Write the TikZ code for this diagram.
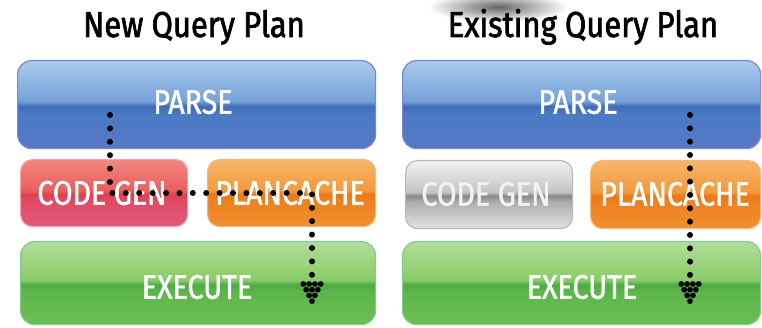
\documentclass[tikz,border=0pt]{standalone}
\usepackage{fontspec}
\usepackage{pdfrender}
\setmainfont{Fira Sans}[FakeStretch=0.84, FakeBold=1.3]
\newfontfamily\titlefont{Fira Sans}[FakeStretch=0.86, FakeBold=1.8]
\definecolor{bT}{HTML}{A9CAEC}\definecolor{bM}{HTML}{76A2DA}\definecolor{bD}{HTML}{3F6BB8}\definecolor{bL}{HTML}{4A7AC4}\definecolor{bB}{HTML}{5878C4}\definecolor{bE}{HTML}{7C86D2}
\definecolor{rT}{HTML}{F2877E}\definecolor{rM}{HTML}{EA5E5E}\definecolor{rD}{HTML}{DE3F4E}\definecolor{rL}{HTML}{E04A62}\definecolor{rB}{HTML}{E2587E}\definecolor{rE}{HTML}{F2A2A8}
\definecolor{oT}{HTML}{F7B56A}\definecolor{oM}{HTML}{F39A3E}\definecolor{oD}{HTML}{EC7818}\definecolor{oL}{HTML}{EE8020}\definecolor{oB}{HTML}{F09030}\definecolor{oE}{HTML}{F6B878}
\definecolor{gT}{HTML}{B2DD9C}\definecolor{gM}{HTML}{8ACC68}\definecolor{gD}{HTML}{4FAA46}\definecolor{gL}{HTML}{5DB64A}\definecolor{gB}{HTML}{6CBF52}\definecolor{gE}{HTML}{82CA90}
\definecolor{sT}{HTML}{F2F2F2}\definecolor{sM}{HTML}{C4C4C4}\definecolor{sD}{HTML}{888888}\definecolor{sL}{HTML}{ADADAD}\definecolor{sB}{HTML}{E2E2E2}\definecolor{sE}{HTML}{B8B8B8}
\pgfdeclareverticalshading{blueshade}{100bp}{color(0bp)=(bB); color(25bp)=(bB); color(45bp)=(bL); color(49bp)=(bD); color(52bp)=(bM); color(75bp)=(bT); color(100bp)=(bT)}
\pgfdeclareverticalshading{redshade}{100bp}{color(0bp)=(rB); color(25bp)=(rB); color(45bp)=(rL); color(49bp)=(rD); color(52bp)=(rM); color(75bp)=(rT); color(100bp)=(rT)}
\pgfdeclareverticalshading{orangeshade}{100bp}{color(0bp)=(oB); color(25bp)=(oB); color(45bp)=(oL); color(49bp)=(oD); color(52bp)=(oM); color(75bp)=(oT); color(100bp)=(oT)}
\pgfdeclareverticalshading{greenshade}{100bp}{color(0bp)=(gB); color(25bp)=(gB); color(45bp)=(gL); color(49bp)=(gD); color(52bp)=(gM); color(75bp)=(gT); color(100bp)=(gT)}
\pgfdeclareverticalshading{grayshade}{100bp}{color(0bp)=(sB); color(25bp)=(sB); color(45bp)=(sL); color(49bp)=(sD); color(52bp)=(sM); color(75bp)=(sT); color(100bp)=(sT)}
\tikzset{
  box/.style={rounded corners=14pt, line width=1.2pt, inner sep=0pt, anchor=north west},
  lbl/.style={text=white, font=\fontsize{34}{34}\selectfont, inner sep=0pt},
  ttl/.style={text=black, font=\titlefont\fontsize{36}{36}\selectfont, inner sep=0pt, anchor=base},
  dotline/.style={line width=6pt, line cap=round, dash pattern=on 0pt off #1},
  dothead/.pic={
    \foreach \x in {-8.7,-2.9,2.9,8.7} \fill (\x,9) circle (2.9pt);
    \foreach \x in {-5.8,0,5.8} \fill (\x,14.7) circle (2.9pt);
    \foreach \x in {-2.9,2.9} \fill (\x,20.4) circle (2.9pt);
    \fill (0,26.1) circle (2.9pt);
  }
}
\begin{document}
\begin{tikzpicture}[x=1pt,y=-1pt]
\useasboundingbox[fill=white] (0,0) rectangle (762,328);
% faint smudge at top
\shade[inner color=black!60, outer color=white] (498,7) ellipse (70pt and 15pt);
% titles
\node[ttl] (t1) at (194,37) {New Query Plan};
\node[ttl] (t2) at (583,37) {Existing Query Plan};
% left panel boxes
\node[box, shading=blueshade, draw=bE, minimum width=358pt, minimum height=88pt] (lparse) at (17,60) {};
\node[box, shading=redshade, draw=rE, rounded corners=12pt, minimum width=167pt, minimum height=67pt] (lcode) at (20,159) {};
\node[box, shading=orangeshade, draw=oE, rounded corners=12pt, minimum width=168pt, minimum height=67pt] (lplan) at (207,159) {};
\node[box, shading=greenshade, draw=gE, minimum width=355pt, minimum height=83pt] (lexec) at (20,241) {};
% right panel boxes
\node[box, shading=blueshade, draw=bE, minimum width=358pt, minimum height=88pt] (rparse) at (402,60) {};
\node[box, shading=grayshade, draw=sE, rounded corners=12pt, minimum width=167pt, minimum height=68pt] (rcode) at (405,160) {};
\node[box, shading=orangeshade, draw=oE, rounded corners=12pt, minimum width=170pt, minimum height=68pt] (rplan) at (590,160) {};
\node[box, shading=greenshade, draw=gE, minimum width=358pt, minimum height=83pt] (rexec) at (402,241) {};
% labels
\node[lbl] (lparset) at (193,102) {PARSE};
\node[lbl] (lcodet) at (102,193) {CODE GEN};
\node[lbl] (lplant) at (290,193) {PLANCACHE};
\node[lbl] (lexect) at (197,287) {EXECUTE};
\node[lbl] (rparset) at (578,102) {PARSE};
\node[lbl, text=black!5] (rcodet) at (486,194) {\textpdfrender{TextRenderingMode=FillStroke, LineWidth=1.5, StrokeColor=black!60}{CODE GEN}};
\node[lbl] (rplant) at (675,194) {PLANCACHE};
\node[lbl] (rexect) at (582,287) {EXECUTE};
% dotted flow paths
\coordinate (ls) at (110,115);
\coordinate (lc) at (110,193);
\coordinate (lh) at (312,193);
\coordinate (le) at (312,275);
\draw[dotline=13.4pt] (ls) -- (lc) -- (lh) -- (le);
\pic at (le) {dothead};
\coordinate (rs) at (690,115);
\coordinate (re) at (690,275);
\draw[dotline=13.33pt] (rs) -- (re);
\pic at (re) {dothead};
\end{tikzpicture}
\end{document}
